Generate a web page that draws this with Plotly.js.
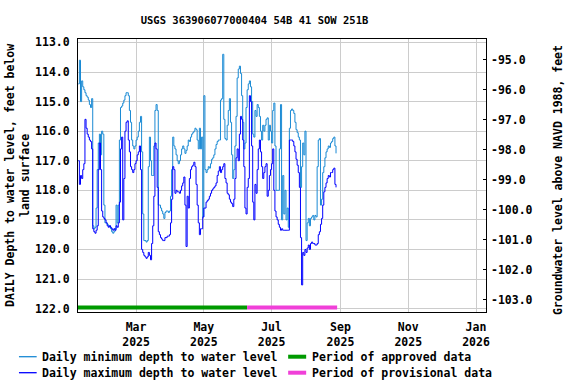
<!DOCTYPE html>
<html>
<head>
<meta charset="utf-8">
<script src="https://cdn.plot.ly/plotly-3.0.1.min.js"></script>
<style>
  html,body{margin:0;padding:0;background:#fff;}
  #chart{width:576px;height:384px;}
</style>
</head>
<body>
<div id="chart"></div>
<script>
// ===== data =====
const siteTitle = 'USGS 363906077000404 54B 41 SOW 251B';
const firstDay = '2025-01-08';   // daily values, one per day from here

// daily minimum depth to water level (ft below land surface)
const minDepth = [
  114.4,113.6,115.0,114.3,114.5,114.6,114.7,114.8,114.85,114.95,
  115.1,115.2,114.9,119.2,119.3,119.25,118.6,117.3,116.4,116.1,
  116.8,116.0,116.1,118.5,119.1,119.1,119.15,119.2,119.2,119.3,
  119.4,119.45,119.4,119.3,118.5,119.1,118.5,116.3,115.2,115.15,
  115.05,114.95,114.8,114.7,114.7,114.8,115.3,115.7,116.3,116.5,
  116.6,116.5,116.3,116.2,116.0,115.7,115.5,116.7,118.8,119.7,
  119.7,119.75,119.7,117.2,116.2,117.0,117.5,117.5,116.5,115.3,
  115.1,115.3,118.5,118.5,118.6,118.7,118.8,118.95,118.75,118.7,
  118.7,118.75,118.7,118.2,117.3,116.2,116.5,116.6,116.8,117.0,
  117.1,117.0,116.8,116.6,116.5,116.6,116.75,116.65,116.5,116.3,
  116.35,116.2,116.1,116.05,116.0,115.9,115.95,116.3,116.6,115.9,
  116.6,116.2,118.9,114.8,117.3,117.4,117.3,117.2,117.25,117.1,
  116.95,116.9,116.8,116.6,116.45,116.35,116.3,116.3,114.95,114.9,
  113.4,115.6,116.25,116.3,115.8,115.3,114.9,115.7,116.8,117.6,
  117.3,116.5,115.5,114.2,113.9,113.8,114.05,114.8,115.7,116.6,
  116.4,115.2,114.6,114.4,114.3,114.5,115.0,116.1,116.2,115.3,
  115.5,115.1,115.2,115.5,116.0,116.3,115.8,116.0,115.8,115.6,
  115.55,116.3,115.8,116.0,116.4,115.3,115.05,116.5,118.0,118.0,
  118.0,116.6,115.1,119.0,117.5,118.8,118.0,119.0,118.6,119.25,
  115.9,115.3,115.25,115.3,115.4,115.7,115.95,116.05,116.2,116.3,
  117.9,117.2,116.4,116.8,116.0,119.7,119.1,118.95,119.2,118.95,
  118.9,118.85,119.0,118.85,118.9,117.2,116.3,116.25,118.5,118.3,
  117.4,117.2,116.9,116.7,116.6,116.5,116.55,116.4,116.35,116.25,
  116.2,116.5,116.75
];

// daily maximum depth to water level (ft below land surface)
const maxDepth = [
  117.0,117.8,117.5,117.6,117.3,117.1,115.6,115.9,116.1,116.2,
  116.3,116.35,116.6,119.3,119.4,119.45,119.35,119.2,117.3,116.4,
  117.3,118.7,118.9,118.95,119.0,119.1,119.2,119.25,119.2,119.25,
  119.3,119.35,119.3,119.35,119.2,119.25,119.1,118.4,116.6,116.2,
  119.0,117.6,116.0,115.7,115.65,116.3,116.7,117.2,117.3,117.4,
  117.3,117.1,117.0,116.8,116.7,116.5,117.3,120.0,120.1,120.2,
  120.25,120.3,120.25,120.1,120.2,120.35,119.8,119.2,118.2,116.4,
  116.6,117.9,119.4,119.5,119.6,119.65,119.7,119.7,119.6,119.6,
  119.55,119.55,119.5,119.1,118.3,117.2,117.3,118.1,118.0,118.05,
  118.05,118.1,118.0,117.85,117.75,117.55,118.5,119.9,118.2,118.6,
  117.6,117.3,117.2,117.15,117.05,117.2,117.8,118.5,119.1,119.5,
  119.3,119.3,118.9,118.6,118.6,118.4,118.35,118.3,118.2,118.1,
  118.0,117.95,117.9,117.85,117.75,117.5,117.35,117.2,117.4,117.3,
  117.2,117.1,117.6,117.75,118.1,118.15,118.3,118.4,118.45,118.55,
  118.3,117.6,116.9,116.6,117.0,116.1,115.5,115.6,116.3,117.2,
  118.6,118.8,117.9,117.6,114.8,115.0,116.5,118.4,119.0,117.8,
  118.1,117.3,116.6,116.3,116.7,117.2,117.6,117.4,117.2,117.1,
  118.2,118.0,117.5,117.3,117.1,116.6,118.0,118.7,118.9,119.0,
  119.15,119.25,119.35,119.3,119.35,119.35,119.35,119.35,119.35,119.35,
  116.3,116.3,116.3,116.35,116.5,116.7,116.95,117.15,117.4,117.9,
  119.6,121.2,120.1,120.2,120.0,120.1,119.95,119.85,120.0,119.8,
  119.75,119.8,119.8,119.85,119.85,119.8,119.5,119.4,119.15,118.95,
  118.5,118.05,117.9,117.75,117.6,117.5,117.55,117.4,117.4,117.3,
  117.25,117.8,117.9
];

// data-approval periods
const approvedPeriod    = ['2025-01-07', '2025-06-09'];
const provisionalPeriod = ['2025-06-09', '2025-08-29'];

// axis ticks
const monthTicks  = ['2025-03-01','2025-05-01','2025-07-01','2025-09-01','2025-11-01','2026-01-01'];
const monthLabels = ['Mar<br>2025','May<br>2025','Jul<br>2025','Sep<br>2025','Nov<br>2025','Jan<br>2026'];
const depthTicks  = [113,114,115,116,117,118,119,120,121,122];
const levelTicks  = [-95,-96,-97,-98,-99,-100,-101,-102,-103];

// ===== helpers =====
function dayList(start, n){
  const out=[]; const d=new Date(start+'T00:00:00Z');
  for(let i=0;i<n;i++){ const t=new Date(d.getTime()+i*86400000); out.push(t.toISOString().slice(0,10)); }
  return out;
}
// paper coords from pixel positions of the 576x384 picture
const PL=78, PR=485.7, PT=39.3, PB=312.3;
function px(x){ return (x-PL)/(PR-PL); }
function py(y){ return (PB-y)/(PB-PT); }

const FONT = {family:'DejaVu Sans Mono', size:11.5, color:'#000', weight:'bold'};
const MIN_C='#1a8ad4', MAX_C='#0000ff', APP_C='#009a00', PROV_C='#f040d8';
const BAR_DEPTH = 121.96;

const dates = dayList(firstDay, minDepth.length);

const traces = [
  {type:'scatter', mode:'lines', x:dates, y:minDepth, line:{color:MIN_C, width:1, shape:'hv'}, showlegend:false, hoverinfo:'skip'},
  {type:'scatter', mode:'lines', x:dates, y:maxDepth, line:{color:MAX_C, width:1, shape:'hv'}, showlegend:false, hoverinfo:'skip'},
  {type:'scatter', mode:'lines', x:approvedPeriod, y:[BAR_DEPTH,BAR_DEPTH], line:{color:APP_C, width:4}, showlegend:false, hoverinfo:'skip'},
  {type:'scatter', mode:'lines', x:provisionalPeriod, y:[BAR_DEPTH,BAR_DEPTH], line:{color:PROV_C, width:4}, showlegend:false, hoverinfo:'skip'},
  // keeps the right-hand axis alive
  {type:'scatter', mode:'lines', x:[], y:[], yaxis:'y2', showlegend:false, hoverinfo:'skip'}
];

// hand-made legend (two columns, short swatches like the original)
const legendRows = [
  {y:357, c:MIN_C, w:1.3, text:'Daily minimum depth to water level', x0:19, x1:36.7, tx:40},
  {y:373, c:MAX_C, w:1.3, text:'Daily maximum depth to water level', x0:19, x1:36.7, tx:40},
  {y:357, c:APP_C, w:4, text:'Period of approved data', x0:288, x1:306, tx:309.5},
  {y:373, c:PROV_C, w:4, text:'Period of provisional data', x0:288, x1:306, tx:309.5}
];
const shapes = legendRows.map(r=>({type:'line', xref:'paper', yref:'paper',
  x0:px(r.x0), x1:px(r.x1), y0:py(r.y), y1:py(r.y), line:{color:r.c, width:r.w}}));
const annotations = legendRows.map(r=>({xref:'paper', yref:'paper', x:px(r.tx), y:py(r.y),
  xanchor:'left', yanchor:'middle', showarrow:false, text:r.text, font:FONT}));

annotations.push({xref:'paper', yref:'paper', x:px(17.5), y:0.5, textangle:-90,
  xanchor:'center', yanchor:'middle', showarrow:false, font:FONT,
  text:'DAILY Depth to water level, feet below<br>land surface'});
annotations.push({xref:'paper', yref:'paper', x:px(557), y:py(180), textangle:-90,
  xanchor:'center', yanchor:'middle', showarrow:false, font:FONT,
  text:'Groundwater level above NAVD 1988, feet'});

const layout = {
  width:576, height:384,
  margin:{l:PL, r:576-PR, t:PT, b:384-PB, pad:0},
  paper_bgcolor:'#fff', plot_bgcolor:'#fff',
  font:FONT, showlegend:false,
  title:{text:siteTitle, x:254.5/576, xanchor:'center', y:1-20.5/384, yanchor:'middle',
         font:{family:'DejaVu Sans Mono', size:10.5, color:'#000', weight:'bold'}},
  xaxis:{type:'date', range:['2025-01-07 18:00','2026-01-10'],
    tickmode:'array', tickvals:monthTicks, ticktext:monthLabels,
    showgrid:true, gridcolor:'#cccccc', gridwidth:1, zeroline:false,
    showline:true, mirror:true, linecolor:'#000', linewidth:1,
    ticks:'outside', ticklen:4, tickcolor:'rgba(0,0,0,0)', tickfont:FONT, fixedrange:true},
  yaxis:{range:[122.115,112.883], tickmode:'array', tickvals:depthTicks, ticktext:depthTicks.map(v=>v.toFixed(1)),
    showgrid:true, gridcolor:'#cccccc', gridwidth:1, zeroline:false,
    showline:true, mirror:true, linecolor:'#000', linewidth:1,
    ticks:'outside', ticklen:5, tickcolor:'rgba(0,0,0,0)', tickfont:FONT, fixedrange:true},
  yaxis2:{overlaying:'y', side:'right', range:[-103.4,-94.31],
    tickmode:'array', tickvals:levelTicks, ticktext:levelTicks.map(v=>v.toFixed(1)),
    showgrid:false, zeroline:false, showline:false,
    ticks:'inside', ticklen:3, tickcolor:'#000', ticklabelstandoff:4, tickfont:FONT, fixedrange:true},
  shapes, annotations
};

Plotly.newPlot('chart', traces, layout, {displayModeBar:false, staticPlot:true});
</script>
</body>
</html>
